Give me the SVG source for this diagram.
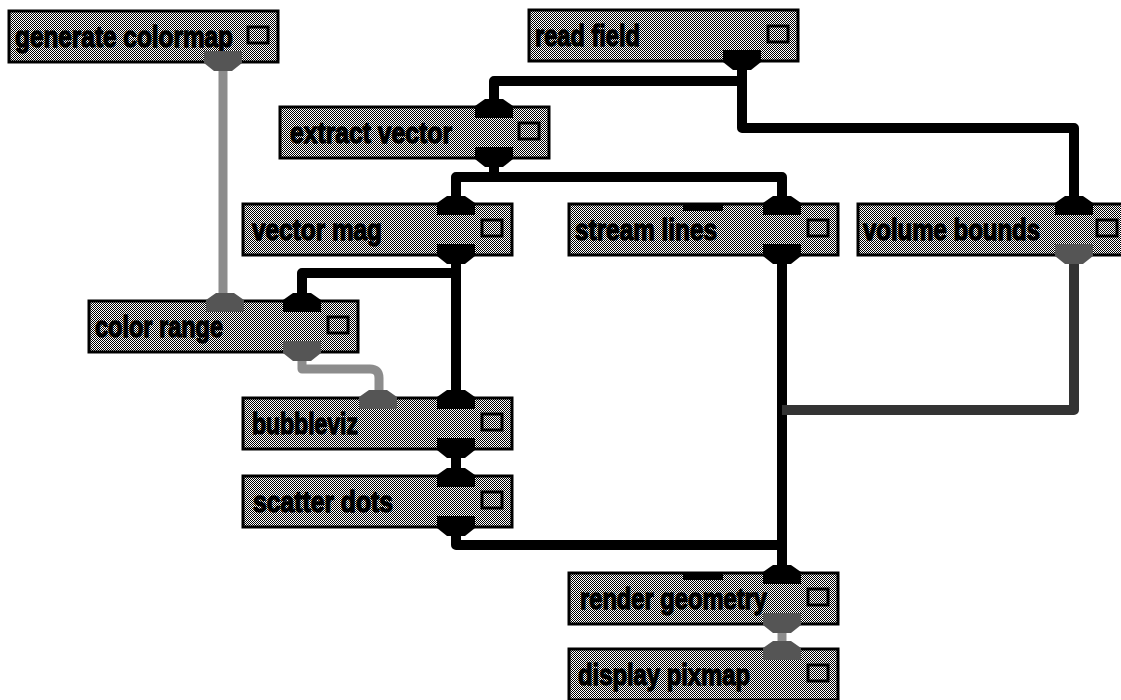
<svg xmlns="http://www.w3.org/2000/svg" width="1121" height="700" viewBox="0 0 1121 700">
<defs>
<pattern id="chk" patternUnits="userSpaceOnUse" x="0" y="0" width="2" height="2"><rect width="2" height="2" fill="#fff"/><rect width="1" height="1" fill="#000"/><rect x="1" y="1" width="1" height="1" fill="#000"/></pattern>
</defs>
<style>
.box{fill:url(#chk);stroke:#000;stroke-width:3}
.lbl{font-family:"Liberation Sans",Arial,sans-serif;font-weight:bold;font-size:29px;fill:#000;stroke:#000;stroke-width:1.3;stroke-linejoin:round}
.cb{fill:url(#chk);stroke:#000;stroke-width:3}
.pb{fill:#000}
.pg{fill:#555}
.w{fill:none;stroke:#000;stroke-width:10;stroke-linejoin:round}
.wg{fill:none;stroke:#8c8c8c;stroke-width:9;stroke-linejoin:round}
.wd{fill:none;stroke:#333;stroke-width:10;stroke-linejoin:round}
</style>
<rect width="1121" height="700" fill="#fff"/>
<g id="connectors">
<path class="w" d="M742,70 V128 H1074 V196"/>
<path class="w" d="M742,81 H494 V99"/>
<path class="w" d="M494,167 V177 H456 V196"/>
<path class="w" d="M494,177 H782 V196"/>
<path class="w" d="M456,264 V390"/>
<path class="w" d="M456,273 H302 V293"/>
<path class="w" d="M456,458 V468"/>
<path class="w" d="M456,536 V545 H782"/>
<path class="w" d="M782,264 V565"/>
<path class="wd" d="M1074,264 V410 H782"/>
<path class="wg" d="M223,71 V293"/>
<path class="wg" d="M302,361 V369 H370 Q379,369 379,378 V390"/>
<path class="wg" d="M782,633 V641"/>
</g>
<g id="generate-colormap">
<rect class="box" x="9" y="11" width="269" height="51"/>
<text class="lbl" x="15" y="47" textLength="218" lengthAdjust="spacingAndGlyphs">generate colormap</text>
<rect class="cb" x="248" y="27" width="20" height="16"/>
<path class="pg" d="M204,51 H242 V63 L232,71 H214 L204,63 Z"/>
</g>
<g id="read-field">
<rect class="box" x="529" y="10" width="269" height="51"/>
<text class="lbl" x="535" y="46" textLength="105" lengthAdjust="spacingAndGlyphs">read field</text>
<rect class="cb" x="768" y="26" width="20" height="16"/>
<path class="pb" d="M723,50 H761 V62 L751,70 H733 L723,62 Z"/>
</g>
<g id="extract-vector">
<rect class="box" x="280" y="107" width="269" height="51"/>
<text class="lbl" x="290" y="143" textLength="162" lengthAdjust="spacingAndGlyphs">extract vector</text>
<rect class="cb" x="519" y="123" width="20" height="16"/>
<path class="pb" d="M485,99 H503 L513,106 V118 H475 V106 Z"/>
<path class="pb" d="M475,147 H513 V159 L503,167 H485 L475,159 Z"/>
</g>
<g id="vector-mag">
<rect class="box" x="243" y="204" width="269" height="51"/>
<text class="lbl" x="252" y="240" textLength="130" lengthAdjust="spacingAndGlyphs">vector mag</text>
<rect class="cb" x="482" y="220" width="20" height="16"/>
<path class="pb" d="M447,196 H465 L475,203 V215 H437 V203 Z"/>
<path class="pb" d="M437,244 H475 V256 L465,264 H447 L437,256 Z"/>
</g>
<g id="stream-lines">
<rect class="box" x="569" y="204" width="269" height="51"/>
<text class="lbl" x="575" y="240" textLength="142" lengthAdjust="spacingAndGlyphs">stream lines</text>
<rect class="cb" x="808" y="220" width="20" height="16"/>
<rect class="pb" x="683" y="203" width="40" height="8"/>
<path class="pb" d="M773,196 H791 L801,203 V215 H763 V203 Z"/>
<path class="pb" d="M763,244 H801 V256 L791,264 H773 L763,256 Z"/>
</g>
<g id="volume-bounds">
<rect class="box" x="858" y="204" width="269" height="51"/>
<text class="lbl" x="863" y="240" textLength="177" lengthAdjust="spacingAndGlyphs">volume bounds</text>
<rect class="cb" x="1097" y="220" width="20" height="16"/>
<path class="pb" d="M1065,196 H1083 L1093,203 V215 H1055 V203 Z"/>
<path class="pg" d="M1055,244 H1093 V256 L1083,264 H1065 L1055,256 Z"/>
</g>
<g id="color-range">
<rect class="box" x="89" y="301" width="269" height="51"/>
<text class="lbl" x="95" y="337" textLength="128" lengthAdjust="spacingAndGlyphs">color range</text>
<rect class="cb" x="328" y="317" width="20" height="16"/>
<path class="pg" d="M216,293 H234 L244,300 V312 H206 V300 Z"/>
<path class="pb" d="M293,293 H311 L321,300 V312 H283 V300 Z"/>
<path class="pg" d="M283,341 H321 V353 L311,361 H293 L283,353 Z"/>
</g>
<g id="bubbleviz">
<rect class="box" x="243" y="398" width="269" height="51"/>
<text class="lbl" x="252" y="434" textLength="106" lengthAdjust="spacingAndGlyphs">bubbleviz</text>
<rect class="cb" x="482" y="414" width="20" height="16"/>
<path class="pg" d="M369,390 H387 L397,397 V409 H359 V397 Z"/>
<path class="pb" d="M447,390 H465 L475,397 V409 H437 V397 Z"/>
<path class="pb" d="M437,438 H475 V450 L465,458 H447 L437,450 Z"/>
</g>
<g id="scatter-dots">
<rect class="box" x="243" y="476" width="269" height="51"/>
<text class="lbl" x="253" y="512" textLength="140" lengthAdjust="spacingAndGlyphs">scatter dots</text>
<rect class="cb" x="482" y="492" width="20" height="16"/>
<path class="pb" d="M447,468 H465 L475,475 V487 H437 V475 Z"/>
<path class="pb" d="M437,516 H475 V528 L465,536 H447 L437,528 Z"/>
</g>
<g id="render-geometry">
<rect class="box" x="569" y="573" width="269" height="51"/>
<text class="lbl" x="580" y="609" textLength="187" lengthAdjust="spacingAndGlyphs">render geometry</text>
<rect class="cb" x="808" y="589" width="20" height="16"/>
<rect class="pb" x="683" y="572" width="40" height="8"/>
<path class="pb" d="M773,565 H791 L801,572 V584 H763 V572 Z"/>
<path class="pg" d="M763,613 H801 V625 L791,633 H773 L763,625 Z"/>
</g>
<g id="display-pixmap">
<rect class="box" x="569" y="649" width="269" height="51"/>
<text class="lbl" x="578" y="685" textLength="172" lengthAdjust="spacingAndGlyphs">display pixmap</text>
<rect class="cb" x="808" y="665" width="20" height="16"/>
<path class="pg" d="M773,641 H791 L801,648 V660 H763 V648 Z"/>
</g>
</svg>
